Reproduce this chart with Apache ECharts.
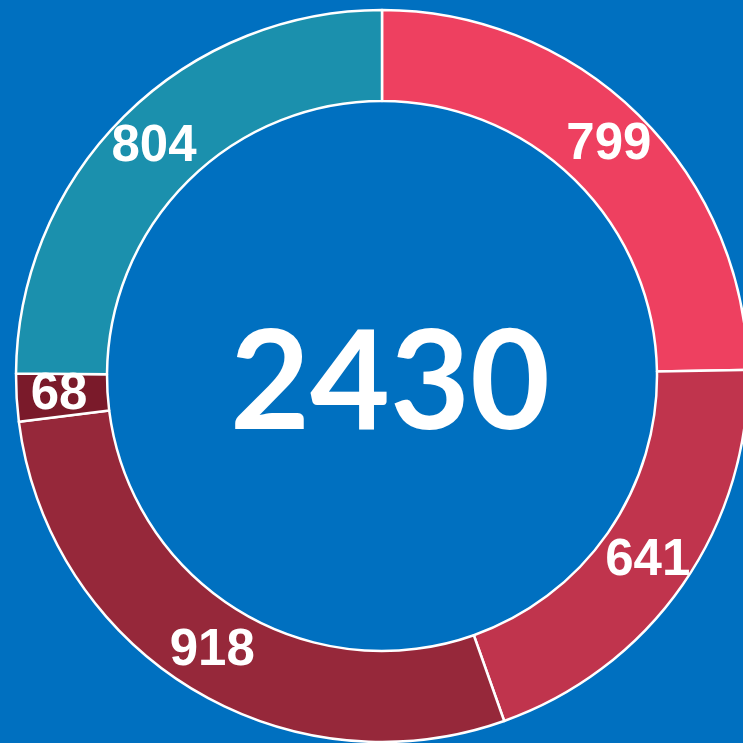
<!DOCTYPE html>
<html><head><meta charset="utf-8">
<script src="https://cdn.jsdelivr.net/npm/echarts@6/dist/echarts.min.js"></script>
<style>html,body{margin:0;padding:0;background:#0070C0;}#c{width:743px;height:743px;}</style>
</head><body><div id="c"></div>
<script>
const values = [799, 641, 918, 68, 804];
const colors = ['#EE4060', '#C0344D', '#96283A', '#7A1A2A', '#1B90AD'];
const centerText = '2430';

const chart = echarts.init(document.getElementById('c'), null, {renderer: 'canvas'});
chart.setOption({
  backgroundColor: '#0070C0',
  animation: false,
  graphic: [{
    type: 'text', x: 390, y: 384,
    style: {
      text: centerText, align: 'center', verticalAlign: 'middle',
      fill: '#fff', fontFamily: 'Lato', fontWeight: 'bold', fontSize: 138
    }
  }],
  series: [{
    type: 'pie',
    center: [382, 376],
    radius: [275, 366],
    startAngle: 90,
    clockwise: true,
    label: {
      show: true, position: 'inside', color: '#fff',
      fontFamily: 'Liberation Sans', fontWeight: 'bold', fontSize: 51,
      formatter: p => p.value
    },
    labelLine: {show: false},
    itemStyle: {borderColor: '#fff', borderWidth: 2.5},
    emphasis: {disabled: true},
    data: values.map((v, i) => ({value: v, itemStyle: {color: colors[i]}}))
  }]
});
</script></body></html>
